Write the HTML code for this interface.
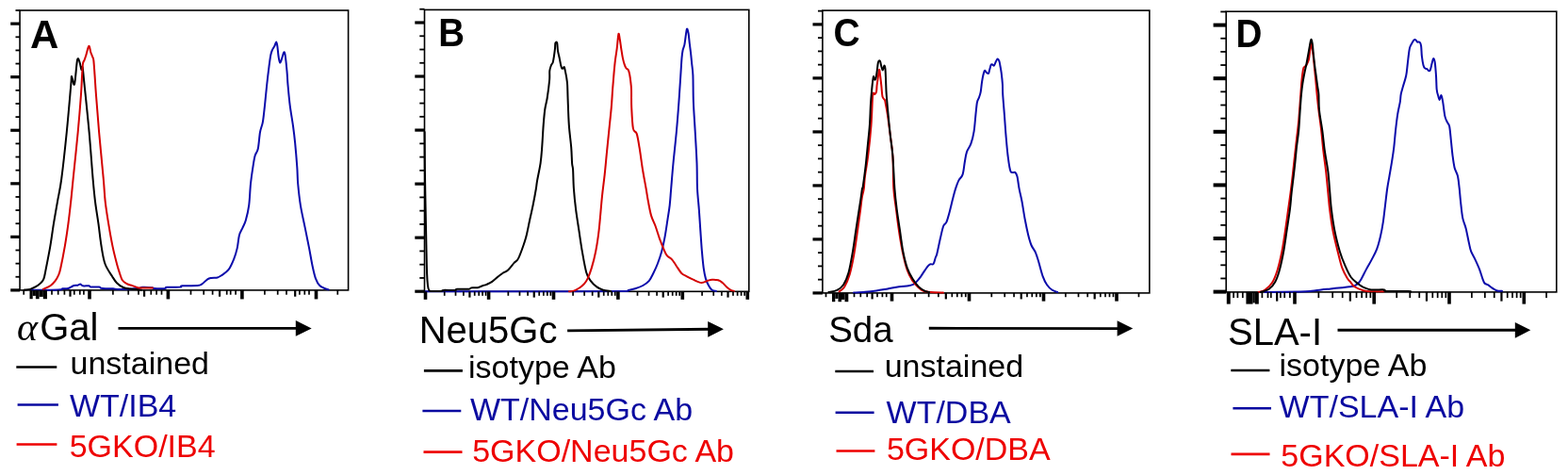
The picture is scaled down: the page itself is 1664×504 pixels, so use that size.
<!DOCTYPE html>
<html><head><meta charset="utf-8"><title>Figure</title>
<style>html,body{margin:0;padding:0;background:#fff;}svg{display:block;}</style>
</head><body>
<svg width="1664" height="504" viewBox="0 0 1664 504">
<rect width="1664" height="504" fill="#fff"/>
<rect x="21.05" y="11" width="348.55" height="296.9" fill="none" stroke="#000" stroke-width="1.6"/>
<path d="M33.2,307.8 C35.9,307.8 44.18,307.9 49.4,307.8 C54.62,307.7 61.68,307.45 64.5,307.2 C67.32,306.95 65,306.5 66.3,306.3 C67.6,306.1 70.3,306.55 72.3,306 C74.3,305.45 76.6,303.55 78.3,303 C80,302.45 81.35,302.95 82.5,302.7 C83.65,302.45 84.3,301.4 85.2,301.5 C86.1,301.6 86.35,303 87.9,303.3 C89.45,303.6 93.1,303.1 94.5,303.3 C95.9,303.5 94.5,304.3 96.3,304.5 C98.1,304.7 103.5,304.3 105.3,304.5 C107.1,304.7 105.98,305.42 107.1,305.7 C108.22,305.98 109.85,306.1 112,306.2 C114.15,306.3 117.5,306.17 120,306.3 C122.5,306.43 122.67,307.05 127,307 C131.33,306.95 142,306.37 146,306 C150,305.63 148.42,304.93 151,304.8 C153.58,304.67 159.42,305 161.5,305.2 C163.58,305.4 161.25,305.87 163.5,306 C165.75,306.13 172.75,306.2 175,306 C177.25,305.8 174.28,305.05 177,304.8 C179.72,304.55 188.58,304.75 191.3,304.5 C194.02,304.25 190.25,303.53 193.3,303.3 C196.35,303.07 206.08,303.43 209.6,303.1 C213.12,302.77 212.63,302.43 214.4,301.3 C216.17,300.17 218.6,297.37 220.2,296.3 C221.8,295.23 222.23,295.22 224,294.9 C225.77,294.58 229.03,294.8 230.8,294.4 C232.57,294 232.65,293.87 234.6,292.5 C236.55,291.13 240.23,289.15 242.5,286.2 C244.77,283.25 246.67,278.6 248.2,274.8 C249.73,271 250.75,267.58 251.7,263.4 C252.65,259.22 252.95,253.3 253.9,249.7 C254.85,246.1 256.25,244.45 257.4,241.8 C258.55,239.15 259.67,237.8 260.8,233.8 C261.93,229.8 263.33,224.27 264.2,217.8 C265.07,211.33 265.3,201.75 266,195 C266.7,188.25 267.63,182.25 268.4,177.3 C269.17,172.35 269.7,168.57 270.6,165.3 C271.5,162.03 272.9,161.88 273.8,157.7 C274.7,153.52 275.15,144.93 276,140.2 C276.85,135.47 278.07,134.03 278.9,129.3 C279.73,124.57 280.28,118.35 281,111.8 C281.72,105.25 282.45,96.85 283.2,90 C283.95,83.15 284.82,76 285.5,70.7 C286.18,65.4 286.72,61.17 287.3,58.2 C287.88,55.23 288.32,54.48 289,52.9 C289.68,51.32 290.7,50.1 291.4,48.7 C292.1,47.3 292.7,44.4 293.2,44.5 C293.7,44.6 294,46.72 294.4,49.3 C294.8,51.88 295.15,57.13 295.6,60 C296.05,62.87 296.5,66.2 297.1,66.5 C297.7,66.8 298.52,63.63 299.2,61.8 C299.88,59.97 300.62,56 301.2,55.5 C301.78,55 302.15,55.47 302.7,58.8 C303.25,62.13 304.03,70.3 304.5,75.5 C304.97,80.7 304.97,83.95 305.5,90 C306.03,96.05 306.78,104.52 307.7,111.8 C308.62,119.08 310.1,127.15 311,133.7 C311.9,140.25 312.38,143.83 313.1,151.1 C313.82,158.37 314.78,169.98 315.3,177.3 C315.82,184.62 315.6,188.25 316.2,195 C316.8,201.75 317.68,210.2 318.9,217.8 C320.12,225.4 321.97,233 323.5,240.6 C325.03,248.2 326.77,256.55 328.1,263.4 C329.43,270.25 330.37,276.38 331.5,281.7 C332.63,287.02 333.57,291.7 334.9,295.3 C336.23,298.9 337.6,301.4 339.5,303.3 C341.4,305.2 344.78,306.05 346.3,306.7 C347.82,307.35 348.22,307.12 348.6,307.2" fill="none" stroke="#0b0bab" stroke-width="2.0" stroke-linejoin="round" stroke-linecap="round"/>
<path d="M26,307.5 C27,307.4 30,307.45 32,306.9 C34,306.35 36.2,305.25 38,304.2 C39.8,303.15 41.4,302 42.8,300.6 C44.2,299.2 45.4,298.4 46.4,295.8 C47.4,293.2 47.65,290.73 48.8,285 C49.95,279.27 51.95,269.3 53.3,261.4 C54.65,253.5 55.62,245.53 56.9,237.6 C58.18,229.67 59.62,221.73 61,213.8 C62.38,205.87 63.57,202.3 65.2,190 C66.83,177.7 69.12,156.67 70.8,140 C72.48,123.33 74.42,99.82 75.3,90 C76.18,80.18 75.48,81.2 76.1,81.1 C76.72,81 78.02,92.28 79,89.4 C79.98,86.52 81.1,67.77 82,63.8 C82.9,59.83 83.67,63.9 84.4,65.6 C85.13,67.3 85.87,73.07 86.4,74 C86.93,74.93 87.13,69.13 87.6,71.2 C88.07,73.27 88.87,83.27 89.2,86.4 C89.53,89.53 88.7,81.07 89.6,90 C90.5,98.93 93.1,123.33 94.6,140 C96.1,156.67 97.53,177.7 98.6,190 C99.67,202.3 100.02,205.87 101,213.8 C101.98,221.73 103.4,229.67 104.5,237.6 C105.6,245.53 106.43,254.33 107.6,261.4 C108.77,268.47 109.57,274.65 111.5,280 C113.43,285.35 117.12,290.13 119.2,293.5 C121.28,296.87 122.07,298.28 124,300.2 C125.93,302.12 128.38,303.97 130.8,305 C133.22,306.03 135.3,306 138.5,306.4 C141.7,306.8 148.08,307.23 150,307.4" fill="none" stroke="#000" stroke-width="2.0" stroke-linejoin="round" stroke-linecap="round"/>
<path d="M45.8,306.9 C47.12,306.25 51.58,304.45 53.7,303 C55.82,301.55 57.12,300 58.5,298.2 C59.88,296.4 61.05,294.4 62,292.2 C62.95,290 63.07,290.13 64.2,285 C65.33,279.87 67.43,269.3 68.8,261.4 C70.17,253.5 71.33,245.53 72.4,237.6 C73.47,229.67 74.33,221.73 75.2,213.8 C76.07,205.87 76.35,202.3 77.6,190 C78.85,177.7 81.3,155 82.7,140 C84.1,125 85.27,110.12 86,100 C86.73,89.88 86.77,84.73 87.1,79.3 C87.43,73.87 87.6,69.98 88,67.4 C88.4,64.82 88.97,65.2 89.5,63.8 C90.03,62.4 90.4,61.48 91.2,59 C92,56.52 93.45,49.48 94.3,48.9 C95.15,48.32 95.67,53.62 96.3,55.5 C96.93,57.38 97.6,58.82 98.1,60.2 C98.6,61.58 98.9,60.62 99.3,63.8 C99.7,66.98 100.07,73.27 100.5,79.3 C100.93,85.33 101.13,89.88 101.9,100 C102.67,110.12 103.78,125 105.1,140 C106.42,155 108.7,177.7 109.8,190 C110.9,202.3 110.8,205.87 111.7,213.8 C112.6,221.73 113.9,229.67 115.2,237.6 C116.5,245.53 118.03,254.33 119.5,261.4 C120.97,268.47 122.77,275.3 124,280 C125.23,284.7 125.93,286.72 126.9,289.6 C127.87,292.48 128.52,295.37 129.8,297.3 C131.08,299.23 132.83,300.23 134.6,301.2 C136.37,302.17 138.47,302.43 140.4,303.1 C142.33,303.77 144.27,304.8 146.2,305.2 C148.13,305.6 149.37,305.43 152,305.5 C154.63,305.57 160.33,305.58 162,305.6" fill="none" stroke="#d40000" stroke-width="2.0" stroke-linejoin="round" stroke-linecap="round"/>
<rect x="11.2" y="306.3" width="9.85" height="3.2" fill="#000"/>
<rect x="16.5" y="292.86" width="4.55" height="1.8" fill="#000"/>
<rect x="16.5" y="278.73" width="4.55" height="1.8" fill="#000"/>
<rect x="16.5" y="264.59" width="4.55" height="1.8" fill="#000"/>
<rect x="11.2" y="249.75" width="9.85" height="3.2" fill="#000"/>
<rect x="16.5" y="236.31" width="4.55" height="1.8" fill="#000"/>
<rect x="16.5" y="222.17" width="4.55" height="1.8" fill="#000"/>
<rect x="16.5" y="208.04" width="4.55" height="1.8" fill="#000"/>
<rect x="11.2" y="193.2" width="9.85" height="3.2" fill="#000"/>
<rect x="16.5" y="179.76" width="4.55" height="1.8" fill="#000"/>
<rect x="16.5" y="165.62" width="4.55" height="1.8" fill="#000"/>
<rect x="16.5" y="151.49" width="4.55" height="1.8" fill="#000"/>
<rect x="11.2" y="136.65" width="9.85" height="3.2" fill="#000"/>
<rect x="16.5" y="123.21" width="4.55" height="1.8" fill="#000"/>
<rect x="16.5" y="109.07" width="4.55" height="1.8" fill="#000"/>
<rect x="16.5" y="94.94" width="4.55" height="1.8" fill="#000"/>
<rect x="11.2" y="80.1" width="9.85" height="3.2" fill="#000"/>
<rect x="16.5" y="66.66" width="4.55" height="1.8" fill="#000"/>
<rect x="16.5" y="52.52" width="4.55" height="1.8" fill="#000"/>
<rect x="16.5" y="38.39" width="4.55" height="1.8" fill="#000"/>
<rect x="11.2" y="23.55" width="9.85" height="3.2" fill="#000"/>
<rect x="16.5" y="10.11" width="4.55" height="1.8" fill="#000"/>
<rect x="24.35" y="307.9" width="1.7" height="4.8" fill="#000"/>
<rect x="31.5" y="307.9" width="3.2" height="9.3" fill="#000"/>
<rect x="34.7" y="307.9" width="3.2" height="6" fill="#000"/>
<rect x="37.9" y="307.9" width="3.7" height="9.3" fill="#000"/>
<rect x="41.6" y="307.9" width="4.2" height="7" fill="#000"/>
<rect x="45.8" y="307.9" width="4.2" height="9.3" fill="#000"/>
<rect x="54.15" y="307.9" width="1.7" height="4.8" fill="#000"/>
<rect x="60.85" y="307.9" width="1.7" height="4.8" fill="#000"/>
<rect x="67.55" y="307.9" width="1.7" height="4.8" fill="#000"/>
<rect x="73.4" y="307.9" width="2.2" height="6.8" fill="#000"/>
<rect x="77.95" y="307.9" width="1.7" height="4.8" fill="#000"/>
<rect x="83.95" y="307.9" width="1.7" height="4.8" fill="#000"/>
<rect x="88.05" y="307.9" width="1.7" height="4.8" fill="#000"/>
<rect x="93.2" y="307.9" width="3.6" height="9.5" fill="#000"/>
<rect x="119.05" y="307.9" width="1.7" height="4.8" fill="#000"/>
<rect x="135.35" y="307.9" width="1.7" height="4.8" fill="#000"/>
<rect x="146.15" y="307.9" width="1.7" height="4.8" fill="#000"/>
<rect x="152" y="307.9" width="2.2" height="6.8" fill="#000"/>
<rect x="159.45" y="307.9" width="1.7" height="4.8" fill="#000"/>
<rect x="165.25" y="307.9" width="1.7" height="4.8" fill="#000"/>
<rect x="170.65" y="307.9" width="1.7" height="4.8" fill="#000"/>
<rect x="176.6" y="307.9" width="3.6" height="9.5" fill="#000"/>
<rect x="201.65" y="307.9" width="1.7" height="4.8" fill="#000"/>
<rect x="215.35" y="307.9" width="1.7" height="4.8" fill="#000"/>
<rect x="224.75" y="307.9" width="1.7" height="4.8" fill="#000"/>
<rect x="232" y="307.9" width="2.2" height="6.8" fill="#000"/>
<rect x="239.85" y="307.9" width="1.7" height="4.8" fill="#000"/>
<rect x="243.85" y="307.9" width="1.7" height="4.8" fill="#000"/>
<rect x="249.25" y="307.9" width="1.7" height="4.8" fill="#000"/>
<rect x="255.1" y="307.9" width="3.6" height="9.5" fill="#000"/>
<rect x="280.05" y="307.9" width="1.7" height="4.8" fill="#000"/>
<rect x="293.85" y="307.9" width="1.7" height="4.8" fill="#000"/>
<rect x="303.15" y="307.9" width="1.7" height="4.8" fill="#000"/>
<rect x="312.1" y="307.9" width="2.2" height="6.8" fill="#000"/>
<rect x="317.05" y="307.9" width="1.7" height="4.8" fill="#000"/>
<rect x="322.45" y="307.9" width="1.7" height="4.8" fill="#000"/>
<rect x="327.15" y="307.9" width="1.7" height="4.8" fill="#000"/>
<rect x="333.7" y="307.9" width="3.6" height="9.5" fill="#000"/>
<rect x="357.45" y="307.9" width="1.7" height="4.8" fill="#000"/>
<text transform="translate(32,50.5) scale(1.0,1)" font-family="&quot;Liberation Sans&quot;, Arial, sans-serif" font-size="42" font-weight="bold" fill="#000">A</text>
<text y="361" font-size="40" fill="#000"><tspan x="17.9" font-family="&quot;Liberation Serif&quot;, serif" font-style="italic" font-size="42">α</tspan><tspan x="42.2" font-family="&quot;Liberation Sans&quot;, Arial, sans-serif">Gal</tspan></text>
<line x1="125.5" y1="348.4" x2="315.8" y2="348.4" stroke="#000" stroke-width="2.9" stroke-linecap="butt"/>
<polygon points="313.8,340.1 330.7,348.4 313.8,356.7" fill="#000"/>
<line x1="17.3" y1="389.5" x2="60.3" y2="389.5" stroke="#000" stroke-width="2.6" stroke-linecap="butt"/>
<text x="74.5" y="397.2" font-family="&quot;Liberation Sans&quot;, Arial, sans-serif" font-size="34" font-weight="normal" fill="#000">unstained</text>
<line x1="18.6" y1="429.5" x2="61.9" y2="429.5" stroke="#0a0aa0" stroke-width="2.6" stroke-linecap="butt"/>
<text x="73.9" y="441.9" font-family="&quot;Liberation Sans&quot;, Arial, sans-serif" font-size="34" font-weight="normal" fill="#0a0aa0">WT/IB4</text>
<line x1="17.6" y1="471.5" x2="60.4" y2="471.5" stroke="#ee0000" stroke-width="2.6" stroke-linecap="butt"/>
<text x="73.7" y="484.6" font-family="&quot;Liberation Sans&quot;, Arial, sans-serif" font-size="34" font-weight="normal" fill="#ee0000">5GKO/IB4</text>
<rect x="450.5" y="10.4" width="344.3" height="298.9" fill="none" stroke="#000" stroke-width="1.6"/>
<path d="M451.5,309.2 C476.25,309.2 565.25,309.23 600,309.2 C634.75,309.17 648.83,309.2 660,309 C671.17,308.8 664.67,308.45 667,308 C669.33,307.55 671.47,307.13 674,306.3 C676.53,305.47 679.72,304.42 682.2,303 C684.68,301.58 687.05,299.97 688.9,297.8 C690.75,295.63 691.82,292.97 693.3,290 C694.78,287.03 696.32,283.88 697.8,280 C699.28,276.12 700.9,271.52 702.2,266.7 C703.5,261.88 704.57,256.67 705.6,251.1 C706.63,245.53 707.55,238.85 708.4,233.3 C709.25,227.75 710.07,223.35 710.7,217.8 C711.33,212.25 711.57,207.47 712.2,200 C712.83,192.53 713.55,183.08 714.5,173 C715.45,162.92 716.92,150.25 717.9,139.5 C718.88,128.75 719.67,118.42 720.4,108.5 C721.13,98.58 721.78,87.8 722.3,80 C722.82,72.2 723.12,66.15 723.5,61.7 C723.88,57.25 724.12,55.68 724.6,53.3 C725.08,50.92 725.9,49.78 726.4,47.4 C726.9,45.02 727.17,41.78 727.6,39 C728.03,36.22 728.5,31.28 729,30.7 C729.5,30.12 730.13,32.92 730.6,35.5 C731.07,38.08 731.4,42.83 731.8,46.2 C732.2,49.57 732.6,52.13 733,55.7 C733.4,59.27 733.8,63.55 734.2,67.6 C734.6,71.65 735.12,73.18 735.4,80 C735.68,86.82 735.52,98.58 735.9,108.5 C736.28,118.42 737.1,128.75 737.7,139.5 C738.3,150.25 739.12,162.92 739.5,173 C739.88,183.08 739.62,191.8 740,200 C740.38,208.2 741.25,214.8 741.8,222.2 C742.35,229.6 742.78,236.98 743.3,244.4 C743.82,251.82 744.33,260.03 744.9,266.7 C745.47,273.37 746.03,279.58 746.7,284.4 C747.37,289.22 747.98,292.45 748.9,295.6 C749.82,298.75 751.08,301.27 752.2,303.3 C753.32,305.33 754.3,306.85 755.6,307.8 C756.9,308.75 759.27,308.8 760,309" fill="none" stroke="#0b0bab" stroke-width="2.0" stroke-linejoin="round" stroke-linecap="round"/>
<path d="M450.6,140 C450.65,146.67 450.73,166.67 450.9,180 C451.07,193.33 451.35,206.67 451.6,220 C451.85,233.33 452.15,248.33 452.4,260 C452.65,271.67 452.83,282.83 453.1,290 C453.37,297.17 453.63,300 454,303 C454.37,306 454.72,307.02 455.3,308 C455.88,308.98 455.22,308.78 457.5,308.9 C459.78,309.02 466.83,308.87 469,308.7 C471.17,308.53 468.17,308.03 470.5,307.9 C472.83,307.77 480.58,308.08 483,307.9 C485.42,307.72 482.53,307 485,306.8 C487.47,306.6 495.3,306.93 497.8,306.7 C500.3,306.47 498.47,305.65 500,305.4 C501.53,305.15 504.98,305.57 507,305.2 C509.02,304.83 510.53,303.77 512.1,303.2 C513.67,302.63 514.72,302.52 516.4,301.8 C518.08,301.08 520.12,300.32 522.2,298.9 C524.28,297.48 527.05,294.78 528.9,293.3 C530.75,291.82 531.63,291.1 533.3,290 C534.97,288.9 536.85,288.55 538.9,286.7 C540.95,284.85 543.75,280.95 545.6,278.9 C547.45,276.85 548.33,277.55 550,274.4 C551.67,271.25 554.12,264.25 555.6,260 C557.08,255.75 557.8,253.35 558.9,248.9 C560,244.45 561.08,238.48 562.2,233.3 C563.32,228.12 564.48,223.35 565.6,217.8 C566.72,212.25 568.17,204.28 568.9,200 C569.63,195.72 569.22,196.58 570,192.1 C570.78,187.62 572.73,179.05 573.6,173.1 C574.47,167.15 574.68,163.15 575.2,156.4 C575.72,149.65 576.18,139.33 576.7,132.6 C577.22,125.87 577.63,120.77 578.3,116 C578.97,111.23 579.9,109.17 580.7,104 C581.5,98.83 582.67,89.8 583.1,85 C583.53,80.2 583,77.82 583.3,75.2 C583.6,72.58 584.33,70.78 584.9,69.3 C585.47,67.82 586.2,67.88 586.7,66.3 C587.2,64.72 587.52,62.28 587.9,59.8 C588.28,57.32 588.75,53.78 589,51.4 C589.25,49.02 589.03,46.48 589.4,45.5 C589.77,44.52 590.77,44.12 591.2,45.5 C591.63,46.88 591.57,51.03 592,53.8 C592.43,56.57 593.27,59.52 593.8,62.1 C594.33,64.68 594.77,67.55 595.2,69.3 C595.63,71.05 596,72.1 596.4,72.6 C596.8,73.1 597.2,72.55 597.6,72.3 C598,72.05 598.43,70.62 598.8,71.1 C599.17,71.58 599.4,73.32 599.8,75.2 C600.2,77.08 600.82,79.93 601.2,82.4 C601.58,84.87 601.87,86.23 602.1,90 C602.33,93.77 602.32,97.9 602.6,105 C602.88,112.1 603.2,124.03 603.8,132.6 C604.4,141.17 605.65,149.62 606.2,156.4 C606.75,163.18 606.78,169.33 607.1,173.3 C607.42,177.27 607.8,175.75 608.1,180.2 C608.4,184.65 608.4,193 608.9,200 C609.4,207 610.18,214.8 611.1,222.2 C612.02,229.6 613.28,236.98 614.4,244.4 C615.52,251.82 616.5,259.28 617.8,266.7 C619.1,274.12 620.72,283.72 622.2,288.9 C623.68,294.08 624.85,295.22 626.7,297.8 C628.55,300.38 631.08,302.73 633.3,304.4 C635.52,306.07 637.55,307.03 640,307.8 C642.45,308.57 646.67,308.8 648,309" fill="none" stroke="#000" stroke-width="2.0" stroke-linejoin="round" stroke-linecap="round"/>
<path d="M604,309.2 C604.83,309.1 607.07,309.3 609,308.6 C610.93,307.9 613.77,306.23 615.6,305 C617.43,303.77 618.67,302.77 620,301.2 C621.33,299.63 622.3,298.4 623.6,295.6 C624.9,292.8 626.37,289.22 627.8,284.4 C629.23,279.58 630.9,273.37 632.2,266.7 C633.5,260.03 634.48,254.03 635.6,244.4 C636.72,234.77 637.88,218.77 638.9,208.9 C639.92,199.03 640.85,193.12 641.7,185.2 C642.55,177.28 643.22,169.33 644,161.4 C644.78,153.47 645.6,145.53 646.4,137.6 C647.2,129.67 648.18,120.9 648.8,113.8 C649.42,106.7 649.65,101 650.1,95 C650.55,89 651.03,82.98 651.5,77.8 C651.97,72.62 652.37,68.3 652.9,63.9 C653.43,59.5 654.12,56.03 654.7,51.4 C655.28,46.77 655.88,37.72 656.4,36.1 C656.92,34.48 657.33,39.15 657.8,41.7 C658.27,44.25 658.7,48.17 659.2,51.4 C659.7,54.63 660.23,58.32 660.8,61.1 C661.37,63.88 662,66.25 662.6,68.1 C663.2,69.95 663.7,71.17 664.4,72.2 C665.1,73.23 666.17,73.13 666.8,74.3 C667.43,75.47 667.8,77.23 668.2,79.2 C668.6,81.17 668.9,83.47 669.2,86.1 C669.5,88.73 669.83,90.38 670,95 C670.17,99.62 669.88,106.9 670.2,113.8 C670.52,120.7 670.98,131.72 671.9,136.4 C672.82,141.08 674.58,138.52 675.7,141.9 C676.82,145.28 677.53,150.27 678.6,156.7 C679.67,163.13 680.93,173.28 682.1,180.5 C683.27,187.72 684.65,194.53 685.6,200 C686.55,205.47 686.88,208.48 687.8,213.3 C688.72,218.12 689.8,224.45 691.1,228.9 C692.4,233.35 694.12,235.93 695.6,240 C697.08,244.07 698.53,249.23 700,253.3 C701.47,257.37 703.1,261.43 704.4,264.4 C705.7,267.37 706.32,269.23 707.8,271.1 C709.28,272.97 711.63,273.75 713.3,275.6 C714.97,277.45 716.13,279.8 717.8,282.2 C719.47,284.6 721.45,288.15 723.3,290 C725.15,291.85 726.85,292.18 728.9,293.3 C730.95,294.42 733.02,295.58 735.6,296.7 C738.18,297.82 741.82,299.82 744.4,300 C746.98,300.18 749.23,298.35 751.1,297.8 C752.97,297.25 753.75,296.78 755.6,296.7 C757.45,296.62 760.35,296.75 762.2,297.3 C764.05,297.85 765.22,298.82 766.7,300 C768.18,301.18 769.62,303.1 771.1,304.4 C772.58,305.7 774.3,307.05 775.6,307.8 C776.9,308.55 778.35,308.72 778.9,308.9" fill="none" stroke="#d40000" stroke-width="2.0" stroke-linejoin="round" stroke-linecap="round"/>
<rect x="440.3" y="307.6" width="10.2" height="3.2" fill="#000"/>
<rect x="445.3" y="294.04" width="5.2" height="1.8" fill="#000"/>
<rect x="445.3" y="279.78" width="5.2" height="1.8" fill="#000"/>
<rect x="445.3" y="265.52" width="5.2" height="1.8" fill="#000"/>
<rect x="440.3" y="250.56" width="10.2" height="3.2" fill="#000"/>
<rect x="445.3" y="237" width="5.2" height="1.8" fill="#000"/>
<rect x="445.3" y="222.74" width="5.2" height="1.8" fill="#000"/>
<rect x="445.3" y="208.48" width="5.2" height="1.8" fill="#000"/>
<rect x="440.3" y="193.52" width="10.2" height="3.2" fill="#000"/>
<rect x="445.3" y="179.96" width="5.2" height="1.8" fill="#000"/>
<rect x="445.3" y="165.7" width="5.2" height="1.8" fill="#000"/>
<rect x="445.3" y="151.44" width="5.2" height="1.8" fill="#000"/>
<rect x="440.3" y="136.48" width="10.2" height="3.2" fill="#000"/>
<rect x="445.3" y="122.92" width="5.2" height="1.8" fill="#000"/>
<rect x="445.3" y="108.66" width="5.2" height="1.8" fill="#000"/>
<rect x="445.3" y="94.4" width="5.2" height="1.8" fill="#000"/>
<rect x="440.3" y="79.44" width="10.2" height="3.2" fill="#000"/>
<rect x="445.3" y="65.88" width="5.2" height="1.8" fill="#000"/>
<rect x="445.3" y="51.62" width="5.2" height="1.8" fill="#000"/>
<rect x="445.3" y="37.36" width="5.2" height="1.8" fill="#000"/>
<rect x="440.3" y="22.4" width="10.2" height="3.2" fill="#000"/>
<rect x="445.3" y="8.84" width="5.2" height="1.8" fill="#000"/>
<rect x="470.85" y="309.3" width="1.7" height="4.5" fill="#000"/>
<rect x="482.66" y="309.3" width="1.7" height="4.5" fill="#000"/>
<rect x="491.05" y="309.3" width="1.7" height="4.5" fill="#000"/>
<rect x="497.3" y="309.3" width="2.2" height="6.3" fill="#000"/>
<rect x="502.86" y="309.3" width="1.7" height="4.5" fill="#000"/>
<rect x="507.36" y="309.3" width="1.7" height="4.5" fill="#000"/>
<rect x="511.25" y="309.3" width="1.7" height="4.5" fill="#000"/>
<rect x="514.68" y="309.3" width="1.7" height="4.5" fill="#000"/>
<rect x="538.49" y="309.3" width="1.7" height="4.5" fill="#000"/>
<rect x="550.62" y="309.3" width="1.7" height="4.5" fill="#000"/>
<rect x="559.23" y="309.3" width="1.7" height="4.5" fill="#000"/>
<rect x="565.66" y="309.3" width="2.2" height="6.3" fill="#000"/>
<rect x="571.36" y="309.3" width="1.7" height="4.5" fill="#000"/>
<rect x="575.98" y="309.3" width="1.7" height="4.5" fill="#000"/>
<rect x="579.97" y="309.3" width="1.7" height="4.5" fill="#000"/>
<rect x="583.5" y="309.3" width="1.7" height="4.5" fill="#000"/>
<rect x="607.24" y="309.3" width="1.7" height="4.5" fill="#000"/>
<rect x="619.29" y="309.3" width="1.7" height="4.5" fill="#000"/>
<rect x="627.83" y="309.3" width="1.7" height="4.5" fill="#000"/>
<rect x="634.21" y="309.3" width="2.2" height="6.3" fill="#000"/>
<rect x="639.88" y="309.3" width="1.7" height="4.5" fill="#000"/>
<rect x="644.45" y="309.3" width="1.7" height="4.5" fill="#000"/>
<rect x="648.42" y="309.3" width="1.7" height="4.5" fill="#000"/>
<rect x="651.92" y="309.3" width="1.7" height="4.5" fill="#000"/>
<rect x="675.64" y="309.3" width="1.7" height="4.5" fill="#000"/>
<rect x="687.69" y="309.3" width="1.7" height="4.5" fill="#000"/>
<rect x="696.23" y="309.3" width="1.7" height="4.5" fill="#000"/>
<rect x="702.61" y="309.3" width="2.2" height="6.3" fill="#000"/>
<rect x="708.28" y="309.3" width="1.7" height="4.5" fill="#000"/>
<rect x="712.85" y="309.3" width="1.7" height="4.5" fill="#000"/>
<rect x="716.82" y="309.3" width="1.7" height="4.5" fill="#000"/>
<rect x="720.32" y="309.3" width="1.7" height="4.5" fill="#000"/>
<rect x="744.22" y="309.3" width="1.7" height="4.5" fill="#000"/>
<rect x="756.37" y="309.3" width="1.7" height="4.5" fill="#000"/>
<rect x="764.99" y="309.3" width="1.7" height="4.5" fill="#000"/>
<rect x="771.43" y="309.3" width="2.2" height="6.3" fill="#000"/>
<rect x="777.14" y="309.3" width="1.7" height="4.5" fill="#000"/>
<rect x="781.76" y="309.3" width="1.7" height="4.5" fill="#000"/>
<rect x="785.76" y="309.3" width="1.7" height="4.5" fill="#000"/>
<rect x="789.29" y="309.3" width="1.7" height="4.5" fill="#000"/>
<rect x="449.7" y="309.3" width="3.6" height="8.5" fill="#000"/>
<rect x="516.8" y="309.3" width="3.6" height="8.5" fill="#000"/>
<rect x="585.7" y="309.3" width="3.6" height="8.5" fill="#000"/>
<rect x="654.1" y="309.3" width="3.6" height="8.5" fill="#000"/>
<rect x="722.5" y="309.3" width="3.6" height="8.5" fill="#000"/>
<rect x="791.5" y="309.3" width="3.6" height="8.5" fill="#000"/>
<text transform="translate(465.3,49) scale(0.915,1)" font-family="&quot;Liberation Sans&quot;, Arial, sans-serif" font-size="42" font-weight="bold" fill="#000">B</text>
<text x="444.7" y="363.75" font-family="&quot;Liberation Sans&quot;, Arial, sans-serif" font-size="40" font-weight="normal" fill="#000">Neu5Gc</text>
<line x1="602.1" y1="350.9" x2="753.2" y2="349.3" stroke="#000" stroke-width="2.9" stroke-linecap="butt"/>
<polygon points="751.2,340.9 767.9,349.3 751.2,357.7" fill="#000"/>
<line x1="449.9" y1="393.4" x2="490.9" y2="393.4" stroke="#000" stroke-width="2.6" stroke-linecap="butt"/>
<text x="497" y="401" font-family="&quot;Liberation Sans&quot;, Arial, sans-serif" font-size="34" font-weight="normal" fill="#000">isotype Ab</text>
<line x1="448.4" y1="436" x2="489.3" y2="436" stroke="#0a0aa0" stroke-width="2.6" stroke-linecap="butt"/>
<text x="498.95" y="446" font-family="&quot;Liberation Sans&quot;, Arial, sans-serif" font-size="34" font-weight="normal" fill="#0a0aa0">WT/Neu5Gc Ab</text>
<line x1="449.5" y1="479.6" x2="490.5" y2="479.6" stroke="#ee0000" stroke-width="2.6" stroke-linecap="butt"/>
<text x="501.2" y="490.1" font-family="&quot;Liberation Sans&quot;, Arial, sans-serif" font-size="34" font-weight="normal" fill="#ee0000">5GKO/Neu5Gc Ab</text>
<rect x="872.9" y="11.1" width="346.95" height="299.8" fill="none" stroke="#000" stroke-width="1.6"/>
<path d="M906,310.6 C908,310.47 914,310.17 918,309.8 C922,309.43 926,308.97 930,308.4 C934,307.83 938,307.08 942,306.4 C946,305.72 950.33,304.83 954,304.3 C957.67,303.77 961.5,303.62 964,303.2 C966.5,302.78 967.67,302.4 969,301.8 C970.33,301.2 970.63,301.02 972,299.6 C973.37,298.18 975.22,296.02 977.2,293.3 C979.18,290.58 982.23,285.45 983.9,283.3 C985.57,281.15 986.08,280.95 987.2,280.4 C988.32,279.85 989.67,281.18 990.6,280 C991.53,278.82 992.17,275.15 992.8,273.3 C993.43,271.45 993.57,272.23 994.4,268.9 C995.23,265.57 996.68,258.12 997.8,253.3 C998.92,248.48 1000,242.95 1001.1,240 C1002.2,237.05 1003.28,238.2 1004.4,235.6 C1005.52,233 1006.68,228.48 1007.8,224.4 C1008.92,220.32 1010.07,215.1 1011.1,211.1 C1012.13,207.1 1012.97,203.65 1014,200.4 C1015.03,197.15 1016.03,194.15 1017.3,191.6 C1018.57,189.05 1020.52,188.37 1021.6,185.1 C1022.68,181.83 1023.07,176 1023.8,172 C1024.53,168 1024.9,164.37 1026,161.1 C1027.1,157.83 1029.13,156.03 1030.4,152.4 C1031.67,148.77 1032.77,144.4 1033.6,139.3 C1034.43,134.2 1034.85,126.9 1035.4,121.8 C1035.95,116.7 1036.32,111.73 1036.9,108.7 C1037.48,105.67 1038.27,105.45 1038.9,103.6 C1039.53,101.75 1040.2,100.18 1040.7,97.6 C1041.2,95.02 1041.5,90.87 1041.9,88.1 C1042.3,85.33 1042.6,83.18 1043.1,81 C1043.6,78.82 1044.3,75.7 1044.9,75 C1045.5,74.3 1046.02,76.3 1046.7,76.8 C1047.38,77.3 1048.42,78.5 1049,78 C1049.58,77.5 1049.75,75.33 1050.2,73.8 C1050.65,72.27 1051.2,69.68 1051.7,68.8 C1052.2,67.92 1052.65,68.37 1053.2,68.5 C1053.75,68.63 1054.4,70.1 1055,69.6 C1055.6,69.1 1056.2,66.68 1056.8,65.5 C1057.4,64.32 1058,62.6 1058.6,62.5 C1059.2,62.4 1059.92,63.62 1060.4,64.9 C1060.88,66.18 1061.12,68.12 1061.5,70.2 C1061.88,72.28 1062.3,74.22 1062.7,77.4 C1063.1,80.58 1063.65,85.53 1063.9,89.3 C1064.15,93.07 1063.87,94.58 1064.2,100 C1064.53,105.42 1065.35,114.53 1065.9,121.8 C1066.45,129.07 1066.88,136.32 1067.5,143.6 C1068.12,150.88 1068.77,159.13 1069.6,165.5 C1070.43,171.87 1071.22,178.9 1072.5,181.8 C1073.78,184.7 1076.13,181.98 1077.3,182.9 C1078.47,183.82 1078.78,184.38 1079.5,187.3 C1080.22,190.22 1080.78,196.07 1081.6,200.4 C1082.42,204.73 1083.37,207.82 1084.4,213.3 C1085.43,218.78 1086.68,227.37 1087.8,233.3 C1088.92,239.23 1090,244.45 1091.1,248.9 C1092.2,253.35 1093.1,256.85 1094.4,260 C1095.7,263.15 1097.6,264.83 1098.9,267.8 C1100.2,270.77 1100.9,273.55 1102.2,277.8 C1103.5,282.05 1105.22,289.23 1106.7,293.3 C1108.18,297.37 1109.43,299.78 1111.1,302.2 C1112.77,304.62 1114.85,306.5 1116.7,307.8 C1118.55,309.1 1121.28,309.63 1122.2,310" fill="none" stroke="#0b0bab" stroke-width="2.0" stroke-linejoin="round" stroke-linecap="round"/>
<path d="M890.6,309.3 C891.52,308.48 894.25,307.43 896.1,304.4 C897.95,301.37 900.03,296.65 901.7,291.1 C903.37,285.55 904.7,278.88 906.1,271.1 C907.5,263.32 908.92,252.55 910.1,244.4 C911.28,236.25 912.43,227.93 913.2,222.2 C913.97,216.47 914.1,213.7 914.7,210 C915.3,206.3 916.27,203.78 916.8,200 C917.33,196.22 917.17,193.05 917.9,187.3 C918.63,181.55 920.1,174.58 921.2,165.5 C922.3,156.42 923.67,143.52 924.5,132.8 C925.33,122.08 925.58,106.67 926.2,101.2 C926.82,95.73 927.57,100.6 928.2,100 C928.83,99.4 929.6,99.18 930,97.6 C930.4,96.02 930.3,93.08 930.6,90.5 C930.9,87.92 931.4,84.88 931.8,82.1 C932.2,79.32 932.6,73.98 933,73.8 C933.4,73.62 933.8,78.02 934.2,81 C934.6,83.98 935.02,88.13 935.4,91.7 C935.78,95.27 935.92,100.02 936.5,102.4 C937.08,104.78 938.35,104.73 938.9,106 C939.45,107.27 939.3,107.37 939.8,110 C940.3,112.63 941.07,116.18 941.9,121.8 C942.73,127.42 943.88,136.42 944.8,143.7 C945.72,150.98 946.82,156.12 947.4,165.5 C947.98,174.88 947.7,190.55 948.3,200 C948.9,209.45 950.07,214.8 951,222.2 C951.93,229.6 952.78,236.98 953.9,244.4 C955.02,251.82 956.22,259.65 957.7,266.7 C959.18,273.75 961.03,281.52 962.8,286.7 C964.57,291.88 966.45,294.85 968.3,297.8 C970.15,300.75 972.05,302.62 973.9,304.4 C975.75,306.18 977.05,307.57 979.4,308.5 C981.75,309.43 984.4,309.67 988,310 C991.6,310.33 998.83,310.42 1001,310.5" fill="none" stroke="#d40000" stroke-width="2.0" stroke-linejoin="round" stroke-linecap="round"/>
<path d="M879.4,310 C880.88,309.63 885.7,309.1 888.3,307.8 C890.9,306.5 892.95,305.35 895,302.2 C897.05,299.05 898.93,294.82 900.6,288.9 C902.27,282.98 903.72,274.12 905,266.7 C906.28,259.28 907.18,251.82 908.3,244.4 C909.42,236.98 910.82,227.93 911.7,222.2 C912.58,216.47 913.05,213.7 913.6,210 C914.15,206.3 914.65,201.95 915,200 C915.35,198.05 915.1,202.23 915.7,198.3 C916.3,194.37 917.75,183.68 918.6,176.4 C919.45,169.12 920.08,161.87 920.8,154.6 C921.52,147.33 922.37,140.23 922.9,132.8 C923.43,125.37 923.62,116.27 924,110 C924.38,103.73 924.83,99.25 925.2,95.2 C925.57,91.15 925.9,88.07 926.2,85.7 C926.5,83.33 926.67,81.2 927,81 C927.33,80.8 927.8,84.12 928.2,84.5 C928.6,84.88 929,84.68 929.4,83.3 C929.8,81.92 930.2,78.97 930.6,76.2 C931,73.43 931.4,68.68 931.8,66.7 C932.2,64.72 932.6,64.5 933,64.3 C933.4,64.1 933.8,64.42 934.2,65.5 C934.6,66.58 934.95,69.32 935.4,70.8 C935.85,72.28 936.42,74.6 936.9,74.4 C937.38,74.2 937.87,69.8 938.3,69.6 C938.73,69.4 939.2,70.52 939.5,73.2 C939.8,75.88 939.9,81.23 940.1,85.7 C940.3,90.17 940.28,93.98 940.7,100 C941.12,106.02 941.92,114.52 942.6,121.8 C943.28,129.08 944,136.42 944.8,143.7 C945.6,150.98 946.63,156.12 947.4,165.5 C948.17,174.88 948.68,190.55 949.4,200 C950.12,209.45 950.77,214.8 951.7,222.2 C952.63,229.6 953.9,236.98 955,244.4 C956.1,251.82 957,260.03 958.3,266.7 C959.6,273.37 961.13,279.58 962.8,284.4 C964.47,289.22 966.27,292.27 968.3,295.6 C970.33,298.93 972.77,302.18 975,304.4 C977.23,306.62 979.85,307.97 981.7,308.9 C983.55,309.83 985.37,309.82 986.1,310" fill="none" stroke="#000" stroke-width="2.0" stroke-linejoin="round" stroke-linecap="round"/>
<rect x="862.5" y="309.3" width="10.4" height="3.2" fill="#000"/>
<rect x="868" y="295.75" width="4.9" height="1.8" fill="#000"/>
<rect x="868" y="281.5" width="4.9" height="1.8" fill="#000"/>
<rect x="868" y="267.25" width="4.9" height="1.8" fill="#000"/>
<rect x="862.5" y="252.3" width="10.4" height="3.2" fill="#000"/>
<rect x="868" y="238.75" width="4.9" height="1.8" fill="#000"/>
<rect x="868" y="224.5" width="4.9" height="1.8" fill="#000"/>
<rect x="868" y="210.25" width="4.9" height="1.8" fill="#000"/>
<rect x="862.5" y="195.3" width="10.4" height="3.2" fill="#000"/>
<rect x="868" y="181.75" width="4.9" height="1.8" fill="#000"/>
<rect x="868" y="167.5" width="4.9" height="1.8" fill="#000"/>
<rect x="868" y="153.25" width="4.9" height="1.8" fill="#000"/>
<rect x="862.5" y="138.3" width="10.4" height="3.2" fill="#000"/>
<rect x="868" y="124.75" width="4.9" height="1.8" fill="#000"/>
<rect x="868" y="110.5" width="4.9" height="1.8" fill="#000"/>
<rect x="868" y="96.25" width="4.9" height="1.8" fill="#000"/>
<rect x="862.5" y="81.3" width="10.4" height="3.2" fill="#000"/>
<rect x="868" y="67.75" width="4.9" height="1.8" fill="#000"/>
<rect x="868" y="53.5" width="4.9" height="1.8" fill="#000"/>
<rect x="868" y="39.25" width="4.9" height="1.8" fill="#000"/>
<rect x="862.5" y="24.3" width="10.4" height="3.2" fill="#000"/>
<rect x="868" y="10.75" width="4.9" height="1.8" fill="#000"/>
<rect x="875.65" y="310.9" width="1.7" height="4.3" fill="#000"/>
<rect x="883" y="310.9" width="3.3" height="9.3" fill="#000"/>
<rect x="886.3" y="310.9" width="3.2" height="6" fill="#000"/>
<rect x="889.5" y="310.9" width="3.5" height="9.3" fill="#000"/>
<rect x="893" y="310.9" width="3.5" height="7" fill="#000"/>
<rect x="896.5" y="310.9" width="3.8" height="9.3" fill="#000"/>
<rect x="905.65" y="310.9" width="1.7" height="4.3" fill="#000"/>
<rect x="912.45" y="310.9" width="1.7" height="4.3" fill="#000"/>
<rect x="919.35" y="310.9" width="1.7" height="4.3" fill="#000"/>
<rect x="924.5" y="310.9" width="2.2" height="6.5" fill="#000"/>
<rect x="930.15" y="310.9" width="1.7" height="4.3" fill="#000"/>
<rect x="935.55" y="310.9" width="1.7" height="4.3" fill="#000"/>
<rect x="939.85" y="310.9" width="1.7" height="4.3" fill="#000"/>
<rect x="970.33" y="310.9" width="1.7" height="4.3" fill="#000"/>
<rect x="984.77" y="310.9" width="1.7" height="4.3" fill="#000"/>
<rect x="995.02" y="310.9" width="1.7" height="4.3" fill="#000"/>
<rect x="1002.72" y="310.9" width="2.2" height="6.5" fill="#000"/>
<rect x="1009.46" y="310.9" width="1.7" height="4.3" fill="#000"/>
<rect x="1014.95" y="310.9" width="1.7" height="4.3" fill="#000"/>
<rect x="1019.7" y="310.9" width="1.7" height="4.3" fill="#000"/>
<rect x="1023.9" y="310.9" width="1.7" height="4.3" fill="#000"/>
<rect x="1051.43" y="310.9" width="1.7" height="4.3" fill="#000"/>
<rect x="1065.34" y="310.9" width="1.7" height="4.3" fill="#000"/>
<rect x="1075.21" y="310.9" width="1.7" height="4.3" fill="#000"/>
<rect x="1082.62" y="310.9" width="2.2" height="6.5" fill="#000"/>
<rect x="1089.12" y="310.9" width="1.7" height="4.3" fill="#000"/>
<rect x="1094.41" y="310.9" width="1.7" height="4.3" fill="#000"/>
<rect x="1098.99" y="310.9" width="1.7" height="4.3" fill="#000"/>
<rect x="1103.04" y="310.9" width="1.7" height="4.3" fill="#000"/>
<rect x="1129.98" y="310.9" width="1.7" height="4.3" fill="#000"/>
<rect x="1143.63" y="310.9" width="1.7" height="4.3" fill="#000"/>
<rect x="1153.31" y="310.9" width="1.7" height="4.3" fill="#000"/>
<rect x="1160.57" y="310.9" width="2.2" height="6.5" fill="#000"/>
<rect x="1166.96" y="310.9" width="1.7" height="4.3" fill="#000"/>
<rect x="1172.15" y="310.9" width="1.7" height="4.3" fill="#000"/>
<rect x="1176.64" y="310.9" width="1.7" height="4.3" fill="#000"/>
<rect x="1180.6" y="310.9" width="1.7" height="4.3" fill="#000"/>
<rect x="944.7" y="310.9" width="3.6" height="8.7" fill="#000"/>
<rect x="1026.7" y="310.9" width="3.6" height="8.7" fill="#000"/>
<rect x="1105.7" y="310.9" width="3.6" height="8.7" fill="#000"/>
<rect x="1183.2" y="310.9" width="3.6" height="8.7" fill="#000"/>
<rect x="1207.63" y="310.9" width="1.7" height="4.3" fill="#000"/>
<text transform="translate(884.4,48.7) scale(0.93,1)" font-family="&quot;Liberation Sans&quot;, Arial, sans-serif" font-size="42" font-weight="bold" fill="#000">C</text>
<text x="879.2" y="362.6" font-family="&quot;Liberation Sans&quot;, Arial, sans-serif" font-size="38.5" font-weight="normal" fill="#000">Sda</text>
<line x1="985.8" y1="348.3" x2="1187.6" y2="348.6" stroke="#000" stroke-width="2.9" stroke-linecap="butt"/>
<polygon points="1185.6,340.35 1202.2,348.6 1185.6,356.85" fill="#000"/>
<line x1="886.3" y1="394" x2="927" y2="394" stroke="#000" stroke-width="2.6" stroke-linecap="butt"/>
<text x="938.7" y="399.8" font-family="&quot;Liberation Sans&quot;, Arial, sans-serif" font-size="34" font-weight="normal" fill="#000">unstained</text>
<line x1="886.6" y1="437.8" x2="927.6" y2="437.8" stroke="#0a0aa0" stroke-width="2.6" stroke-linecap="butt"/>
<text x="940.55" y="448.6" font-family="&quot;Liberation Sans&quot;, Arial, sans-serif" font-size="34" font-weight="normal" fill="#0a0aa0">WT/DBA</text>
<line x1="887.5" y1="478.5" x2="928.4" y2="478.5" stroke="#ee0000" stroke-width="2.6" stroke-linecap="butt"/>
<text x="940.9" y="487.5" font-family="&quot;Liberation Sans&quot;, Arial, sans-serif" font-size="34" font-weight="normal" fill="#ee0000">5GKO/DBA</text>
<rect x="1301.2" y="12.2" width="350.6" height="297.7" fill="none" stroke="#000" stroke-width="1.6"/>
<path d="M1342.2,310 C1348.5,309.93 1371.7,309.8 1380,309.6 C1388.3,309.4 1388.33,309.17 1392,308.8 C1395.67,308.43 1398.67,307.8 1402,307.4 C1405.33,307 1408.33,306.77 1412,306.4 C1415.67,306.03 1420.67,305.55 1424,305.2 C1427.33,304.85 1429.75,304.63 1432,304.3 C1434.25,303.97 1435.97,303.78 1437.5,303.2 C1439.03,302.62 1440.05,301.92 1441.2,300.8 C1442.35,299.68 1442.93,299.03 1444.4,296.5 C1445.87,293.97 1448.13,289.08 1450,285.6 C1451.87,282.12 1453.75,279.13 1455.6,275.6 C1457.45,272.07 1459.55,268.48 1461.1,264.4 C1462.65,260.32 1463.78,255.9 1464.9,251.1 C1466.02,246.3 1466.95,241.15 1467.8,235.6 C1468.65,230.05 1469.27,223.73 1470,217.8 C1470.73,211.87 1471.45,205.2 1472.2,200 C1472.95,194.8 1473.68,191.37 1474.5,186.6 C1475.32,181.83 1476.3,176.48 1477.1,171.4 C1477.9,166.32 1478.65,161.57 1479.3,156.1 C1479.95,150.63 1480.35,144.42 1481,138.6 C1481.65,132.78 1482.4,126.28 1483.2,121.2 C1484,116.12 1485.22,111.63 1485.8,108.1 C1486.38,104.57 1486.17,102.78 1486.7,100 C1487.23,97.22 1488.08,94.68 1489,91.4 C1489.92,88.12 1491.4,84.27 1492.2,80.3 C1493,76.33 1493.32,71.57 1493.8,67.6 C1494.28,63.63 1494.7,59.4 1495.1,56.5 C1495.5,53.6 1495.62,52.05 1496.2,50.2 C1496.78,48.35 1497.8,46.73 1498.6,45.4 C1499.4,44.07 1500.27,42.6 1501,42.2 C1501.73,41.8 1502.48,42.6 1503,43 C1503.52,43.4 1503.52,44.33 1504.1,44.6 C1504.68,44.87 1505.83,43.93 1506.5,44.6 C1507.17,45.27 1507.7,46.08 1508.1,48.6 C1508.5,51.12 1508.5,56.27 1508.9,59.7 C1509.3,63.13 1509.97,67.08 1510.5,69.2 C1511.03,71.32 1511.45,71.73 1512.1,72.4 C1512.75,73.07 1513.7,72.73 1514.4,73.2 C1515.1,73.67 1515.72,75.07 1516.3,75.2 C1516.88,75.33 1517.37,75.27 1517.9,74 C1518.43,72.73 1518.97,69.58 1519.5,67.6 C1520.03,65.62 1520.57,62.37 1521.1,62.1 C1521.63,61.83 1522.22,62.97 1522.7,66 C1523.18,69.03 1523.67,75.47 1524,80.3 C1524.33,85.13 1524.33,91.47 1524.7,95 C1525.07,98.53 1525.7,99.68 1526.2,101.5 C1526.7,103.32 1527.15,105.97 1527.7,105.9 C1528.25,105.83 1528.92,100.73 1529.5,101.1 C1530.08,101.47 1530.55,104.38 1531.2,108.1 C1531.85,111.82 1532.6,119.77 1533.4,123.4 C1534.2,127.03 1535.2,128.08 1536,129.9 C1536.8,131.72 1537.55,131.03 1538.2,134.3 C1538.85,137.57 1539.35,144.42 1539.9,149.5 C1540.45,154.58 1540.88,160.07 1541.5,164.8 C1542.12,169.53 1542.7,174.27 1543.6,177.9 C1544.5,181.53 1546.05,182.97 1546.9,186.6 C1547.75,190.23 1548.18,195.25 1548.7,199.7 C1549.22,204.15 1549.42,208.07 1550,213.3 C1550.58,218.53 1551.27,226.28 1552.2,231.1 C1553.13,235.92 1554.48,237.75 1555.6,242.2 C1556.72,246.65 1557.98,253.72 1558.9,257.8 C1559.82,261.88 1559.98,263.73 1561.1,266.7 C1562.22,269.67 1564.12,272.45 1565.6,275.6 C1567.08,278.75 1568.72,282.27 1570,285.6 C1571.28,288.93 1572.38,293.12 1573.3,295.6 C1574.22,298.08 1574.57,299.4 1575.5,300.5 C1576.43,301.6 1577.35,301.22 1578.9,302.2 C1580.45,303.18 1583.12,305.35 1584.8,306.4 C1586.48,307.45 1587.47,308.12 1589,308.5 C1590.53,308.88 1593.17,308.67 1594,308.7" fill="none" stroke="#0b0bab" stroke-width="2.0" stroke-linejoin="round" stroke-linecap="round"/>
<path d="M1335.6,310 C1336.7,309.63 1339.8,309.47 1342.2,307.8 C1344.6,306.13 1347.77,303.52 1350,300 C1352.23,296.48 1353.87,292.25 1355.6,286.7 C1357.33,281.15 1359,273.75 1360.4,266.7 C1361.8,259.65 1362.88,251.82 1364,244.4 C1365.12,236.98 1366.18,228.77 1367.1,222.2 C1368.02,215.63 1368.73,210.92 1369.5,205 C1370.27,199.08 1370.98,193.03 1371.7,186.7 C1372.42,180.37 1373.08,173.55 1373.8,167 C1374.52,160.45 1375.27,153.93 1376,147.4 C1376.73,140.87 1377.48,135.7 1378.2,127.8 C1378.92,119.9 1379.77,107.03 1380.3,100 C1380.83,92.97 1380.93,90.1 1381.4,85.6 C1381.87,81.1 1382.6,75.43 1383.1,73 C1383.6,70.57 1383.83,71.68 1384.4,71 C1384.97,70.32 1385.75,70.18 1386.5,68.9 C1387.25,67.62 1388.32,65.62 1388.9,63.3 C1389.48,60.98 1389.63,57.77 1390,55 C1390.37,52.23 1390.75,47.63 1391.1,46.7 C1391.45,45.77 1391.7,47.55 1392.1,49.4 C1392.5,51.25 1393.03,54.08 1393.5,57.8 C1393.97,61.52 1394.43,67.07 1394.9,71.7 C1395.37,76.33 1395.85,80.88 1396.3,85.6 C1396.75,90.32 1397.08,94.8 1397.6,100 C1398.12,105.2 1398.63,110.35 1399.4,116.8 C1400.17,123.25 1401.37,131.42 1402.2,138.7 C1403.03,145.98 1403.57,153.23 1404.4,160.5 C1405.23,167.77 1406.37,174.88 1407.2,182.3 C1408.03,189.72 1408.75,198.35 1409.4,205 C1410.05,211.65 1410.27,215.63 1411.1,222.2 C1411.93,228.77 1412.98,236.98 1414.4,244.4 C1415.82,251.82 1417.93,260.03 1419.6,266.7 C1421.27,273.37 1422.67,279.58 1424.4,284.4 C1426.13,289.22 1428.57,293.17 1430,295.6 C1431.43,298.03 1431.75,297.56 1433,299 C1434.25,300.44 1435.18,302.72 1437.5,304.25 C1439.82,305.78 1444.03,307.36 1446.9,308.2 C1449.77,309.04 1451.06,309.12 1454.7,309.3 C1458.34,309.48 1466.41,309.3 1468.75,309.3" fill="none" stroke="#d40000" stroke-width="2.0" stroke-linejoin="round" stroke-linecap="round"/>
<path d="M1337.8,310 C1339.28,309.45 1344.12,308.55 1346.7,306.7 C1349.28,304.85 1351.45,302.23 1353.3,298.9 C1355.15,295.57 1356.32,292.07 1357.8,286.7 C1359.28,281.33 1360.9,273.75 1362.2,266.7 C1363.5,259.65 1364.48,251.82 1365.6,244.4 C1366.72,236.98 1368.07,228.77 1368.9,222.2 C1369.73,215.63 1369.95,210.92 1370.6,205 C1371.25,199.08 1372.15,192.3 1372.8,186.7 C1373.45,181.1 1373.97,176.5 1374.5,171.4 C1375.03,166.3 1375.38,161.55 1376,156.1 C1376.62,150.65 1377.58,145.25 1378.2,138.7 C1378.82,132.15 1379.23,123.25 1379.7,116.8 C1380.17,110.35 1380.55,104.75 1381,100 C1381.45,95.25 1381.83,92.1 1382.4,88.3 C1382.97,84.5 1383.72,80.67 1384.4,77.2 C1385.08,73.73 1385.85,70.73 1386.5,67.5 C1387.15,64.27 1387.72,61.03 1388.3,57.8 C1388.88,54.57 1389.48,50.77 1390,48.1 C1390.52,45.43 1390.93,42.03 1391.4,41.8 C1391.87,41.57 1392.38,44.03 1392.8,46.7 C1393.22,49.37 1393.48,53.87 1393.9,57.8 C1394.32,61.73 1394.78,66.13 1395.3,70.3 C1395.82,74.47 1396.5,79.1 1397,82.8 C1397.5,86.5 1397.9,89.63 1398.3,92.5 C1398.7,95.37 1399.12,95.95 1399.4,100 C1399.68,104.05 1399.35,110.35 1400,116.8 C1400.65,123.25 1402.32,131.42 1403.3,138.7 C1404.28,145.98 1404.88,153.23 1405.9,160.5 C1406.92,167.77 1408.52,175.22 1409.4,182.3 C1410.28,189.38 1410.62,196.35 1411.2,203 C1411.78,209.65 1412.05,215.3 1412.9,222.2 C1413.75,229.1 1414.82,236.98 1416.3,244.4 C1417.78,251.82 1419.92,260.4 1421.8,266.7 C1423.68,273 1425.63,277.65 1427.6,282.2 C1429.57,286.75 1431.37,290.87 1433.6,294 C1435.83,297.13 1438.77,299.2 1441,301 C1443.23,302.8 1444.67,303.73 1447,304.8 C1449.33,305.87 1451.38,306.97 1455,307.4 C1458.62,307.83 1466.08,307.13 1468.75,307.4 C1471.42,307.67 1466.71,308.73 1471,309 C1475.29,309.27 1490.17,308.88 1494.5,309 C1498.83,309.12 1496.58,309.58 1497,309.7" fill="none" stroke="#000" stroke-width="2.0" stroke-linejoin="round" stroke-linecap="round"/>
<rect x="1287.6" y="307.6" width="13.6" height="4" fill="#000"/>
<rect x="1295.3" y="294.55" width="5.9" height="1.8" fill="#000"/>
<rect x="1295.3" y="280.4" width="5.9" height="1.8" fill="#000"/>
<rect x="1295.3" y="266.25" width="5.9" height="1.8" fill="#000"/>
<rect x="1287.6" y="251" width="13.6" height="4" fill="#000"/>
<rect x="1295.3" y="237.95" width="5.9" height="1.8" fill="#000"/>
<rect x="1295.3" y="223.8" width="5.9" height="1.8" fill="#000"/>
<rect x="1295.3" y="209.65" width="5.9" height="1.8" fill="#000"/>
<rect x="1287.6" y="194.4" width="13.6" height="4" fill="#000"/>
<rect x="1295.3" y="181.35" width="5.9" height="1.8" fill="#000"/>
<rect x="1295.3" y="167.2" width="5.9" height="1.8" fill="#000"/>
<rect x="1295.3" y="153.05" width="5.9" height="1.8" fill="#000"/>
<rect x="1287.6" y="137.8" width="13.6" height="4" fill="#000"/>
<rect x="1295.3" y="124.75" width="5.9" height="1.8" fill="#000"/>
<rect x="1295.3" y="110.6" width="5.9" height="1.8" fill="#000"/>
<rect x="1295.3" y="96.45" width="5.9" height="1.8" fill="#000"/>
<rect x="1287.6" y="81.2" width="13.6" height="4" fill="#000"/>
<rect x="1295.3" y="68.15" width="5.9" height="1.8" fill="#000"/>
<rect x="1295.3" y="54" width="5.9" height="1.8" fill="#000"/>
<rect x="1295.3" y="39.85" width="5.9" height="1.8" fill="#000"/>
<rect x="1287.6" y="24.6" width="13.6" height="4" fill="#000"/>
<rect x="1295.3" y="11.55" width="5.9" height="1.8" fill="#000"/>
<rect x="1301.8" y="309.9" width="3.9" height="12.7" fill="#000"/>
<rect x="1308.25" y="309.9" width="1.7" height="6.2" fill="#000"/>
<rect x="1312.55" y="309.9" width="1.7" height="6.2" fill="#000"/>
<rect x="1317.95" y="309.9" width="1.7" height="6.2" fill="#000"/>
<rect x="1322.4" y="309.9" width="7.1" height="12.7" fill="#000"/>
<rect x="1329.5" y="309.9" width="2.3" height="11.5" fill="#000"/>
<rect x="1331.8" y="309.9" width="4" height="12.7" fill="#000"/>
<rect x="1338.55" y="309.9" width="1.7" height="6.2" fill="#000"/>
<rect x="1344.65" y="309.9" width="1.7" height="6.2" fill="#000"/>
<rect x="1347.95" y="309.9" width="1.7" height="6.2" fill="#000"/>
<rect x="1354.1" y="309.9" width="2.2" height="9.7" fill="#000"/>
<rect x="1358.05" y="309.9" width="1.7" height="6.2" fill="#000"/>
<rect x="1362.35" y="309.9" width="1.7" height="6.2" fill="#000"/>
<rect x="1368.05" y="309.9" width="1.7" height="6.2" fill="#000"/>
<rect x="1398.5" y="309.9" width="1.7" height="6.2" fill="#000"/>
<rect x="1413.32" y="309.9" width="1.7" height="6.2" fill="#000"/>
<rect x="1423.84" y="309.9" width="1.7" height="6.2" fill="#000"/>
<rect x="1431.75" y="309.9" width="2.2" height="9.7" fill="#000"/>
<rect x="1438.67" y="309.9" width="1.7" height="6.2" fill="#000"/>
<rect x="1444.31" y="309.9" width="1.7" height="6.2" fill="#000"/>
<rect x="1449.19" y="309.9" width="1.7" height="6.2" fill="#000"/>
<rect x="1453.5" y="309.9" width="1.7" height="6.2" fill="#000"/>
<rect x="1481.37" y="309.9" width="1.7" height="6.2" fill="#000"/>
<rect x="1495.42" y="309.9" width="1.7" height="6.2" fill="#000"/>
<rect x="1505.39" y="309.9" width="1.7" height="6.2" fill="#000"/>
<rect x="1512.88" y="309.9" width="2.2" height="9.7" fill="#000"/>
<rect x="1519.45" y="309.9" width="1.7" height="6.2" fill="#000"/>
<rect x="1524.79" y="309.9" width="1.7" height="6.2" fill="#000"/>
<rect x="1529.42" y="309.9" width="1.7" height="6.2" fill="#000"/>
<rect x="1533.5" y="309.9" width="1.7" height="6.2" fill="#000"/>
<rect x="1561.02" y="309.9" width="1.7" height="6.2" fill="#000"/>
<rect x="1574.99" y="309.9" width="1.7" height="6.2" fill="#000"/>
<rect x="1584.89" y="309.9" width="1.7" height="6.2" fill="#000"/>
<rect x="1592.33" y="309.9" width="2.2" height="9.7" fill="#000"/>
<rect x="1598.86" y="309.9" width="1.7" height="6.2" fill="#000"/>
<rect x="1604.17" y="309.9" width="1.7" height="6.2" fill="#000"/>
<rect x="1608.77" y="309.9" width="1.7" height="6.2" fill="#000"/>
<rect x="1612.82" y="309.9" width="1.7" height="6.2" fill="#000"/>
<rect x="1372.2" y="309.9" width="3.6" height="12.7" fill="#000"/>
<rect x="1456.4" y="309.9" width="3.6" height="12.7" fill="#000"/>
<rect x="1536.2" y="309.9" width="3.6" height="12.7" fill="#000"/>
<rect x="1615.5" y="309.9" width="3.6" height="12.7" fill="#000"/>
<rect x="1640.23" y="309.9" width="1.7" height="6.2" fill="#000"/>
<text transform="translate(1311.6,49.5) scale(0.92,1)" font-family="&quot;Liberation Sans&quot;, Arial, sans-serif" font-size="42" font-weight="bold" fill="#000">D</text>
<text x="1303" y="365.7" font-family="&quot;Liberation Sans&quot;, Arial, sans-serif" font-size="40" font-weight="normal" fill="#000">SLA-I</text>
<line x1="1419.5" y1="350.2" x2="1609.8" y2="350.3" stroke="#000" stroke-width="2.9" stroke-linecap="butt"/>
<polygon points="1607.8,341.9 1624.3,350.3 1607.8,358.7" fill="#000"/>
<line x1="1306.3" y1="393" x2="1347.4" y2="393" stroke="#000" stroke-width="2.6" stroke-linecap="butt"/>
<text x="1357.5" y="399.3" font-family="&quot;Liberation Sans&quot;, Arial, sans-serif" font-size="34" font-weight="normal" fill="#000">isotype Ab</text>
<line x1="1308.4" y1="433.3" x2="1349" y2="433.3" stroke="#0a0aa0" stroke-width="2.6" stroke-linecap="butt"/>
<text x="1357.6" y="443.4" font-family="&quot;Liberation Sans&quot;, Arial, sans-serif" font-size="34" font-weight="normal" fill="#0a0aa0">WT/SLA-I Ab</text>
<line x1="1306.5" y1="481.9" x2="1347.5" y2="481.9" stroke="#ee0000" stroke-width="2.6" stroke-linecap="butt"/>
<text x="1359.3" y="494.5" font-family="&quot;Liberation Sans&quot;, Arial, sans-serif" font-size="34" font-weight="normal" fill="#ee0000">5GKO/SLA-I Ab</text>
</svg>
</body></html>
